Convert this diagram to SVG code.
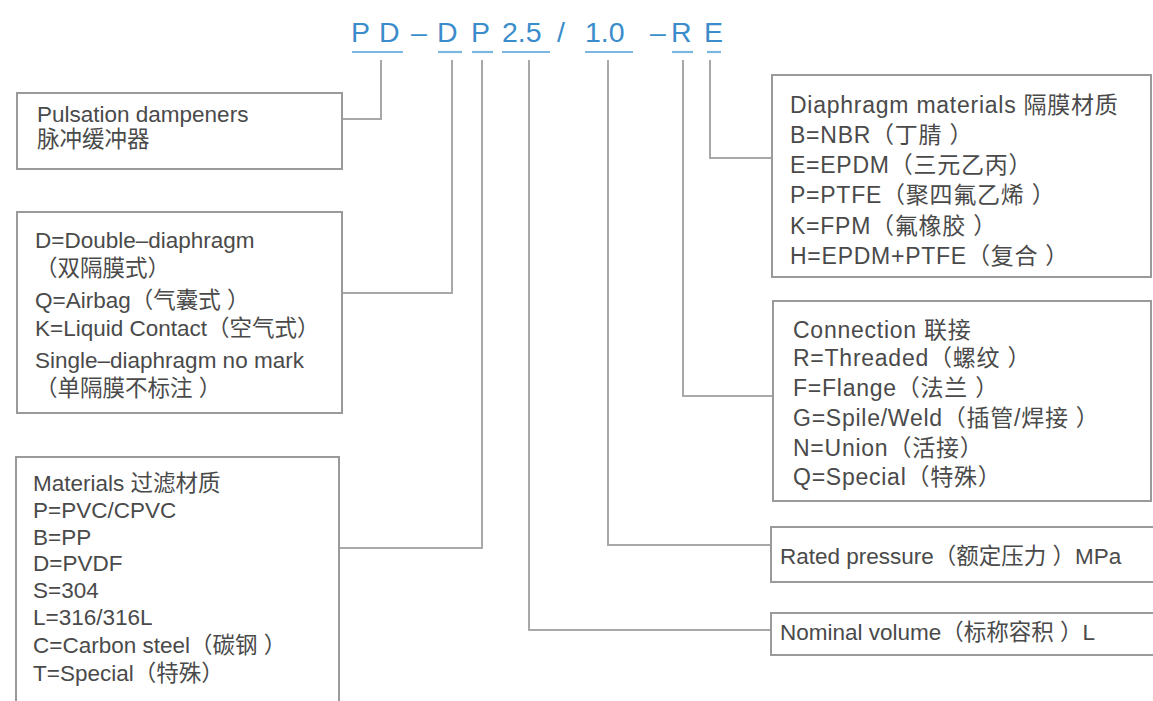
<svg xmlns="http://www.w3.org/2000/svg" width="1153" height="701" viewBox="0 0 1153 701">
<style>
.box{fill:#fff;stroke:#9a9a9a;stroke-width:2}
.con{fill:none;stroke:#a8a8a8;stroke-width:2}
.t{font-family:"Liberation Sans","Noto Sans CJK SC",sans-serif;fill:#4a4a4a}
.l{font-size:22.5px}
.r{font-size:23px;letter-spacing:0.75px}
.ttl{font-family:"Liberation Sans",Arial,sans-serif;font-size:28.5px;fill:#3a8ccb}
.ul{stroke:#7ab8e2;stroke-width:2.2}
</style>
<rect width="1153" height="701" fill="#fff"/>
<g id="title">
<text class="ttl" x="351" y="42">P</text>
<text class="ttl" x="379" y="42">D</text>
<text class="ttl" x="411" y="42">–</text>
<text class="ttl" x="437" y="42">D</text>
<text class="ttl" x="471" y="42">P</text>
<text class="ttl" x="502" y="42">2.5</text>
<text class="ttl" x="557" y="42">/</text>
<text class="ttl" x="585" y="42">1.0</text>
<text class="ttl" x="650" y="42">–</text>
<text class="ttl" x="671" y="42">R</text>
<text class="ttl" x="704" y="42">E</text>
<line class="ul" x1="352" y1="52" x2="403" y2="52"/>
<line class="ul" x1="438" y1="52" x2="462" y2="52"/>
<line class="ul" x1="472" y1="52" x2="493" y2="52"/>
<line class="ul" x1="502" y1="52" x2="550" y2="52"/>
<line class="ul" x1="585" y1="52" x2="633" y2="52"/>
<line class="ul" x1="672" y1="52" x2="693" y2="52"/>
<line class="ul" x1="707" y1="52" x2="721" y2="52"/>
</g>
<g id="connectors">
<path class="con" d="M381,60 V119 H342"/>
<path class="con" d="M452,60 V293 H342"/>
<path class="con" d="M482,60 V548 H339"/>
<path class="con" d="M529,60 V630 H771"/>
<path class="con" d="M608,60 V545 H771"/>
<path class="con" d="M683,60 V396 H773"/>
<path class="con" d="M710,60 V158 H772"/>
</g>
<g id="node-type">
<rect class="box" x="17" y="93" width="325" height="76"/>
<text class="t l" x="37" y="122">Pulsation dampeners</text>
<text class="t l" x="37" y="147">脉冲缓冲器</text>
</g>
<g id="node-structure">
<rect class="box" x="17" y="212" width="325" height="201"/>
<text class="t l" x="35" y="248">D=Double–diaphragm</text>
<text class="t l" x="35" y="276">（双隔膜式）</text>
<text class="t l" x="35" y="308">Q=Airbag（气囊式 ）</text>
<text class="t l" x="35" y="336">K=Liquid Contact（空气式）</text>
<text class="t l" x="35" y="368">Single–diaphragm no mark</text>
<text class="t l" x="35" y="396">（单隔膜不标注 ）</text>
</g>
<g id="node-materials">
<rect class="box" x="16" y="457" width="323" height="260"/>
<text class="t l" x="33" y="491">Materials 过滤材质</text>
<text class="t l" x="33" y="518">P=PVC/CPVC</text>
<text class="t l" x="33" y="545">B=PP</text>
<text class="t l" x="33" y="571">D=PVDF</text>
<text class="t l" x="33" y="598">S=304</text>
<text class="t l" x="33" y="625">L=316/316L</text>
<text class="t l" x="33" y="653">C=Carbon steel（碳钢 ）</text>
<text class="t l" x="33" y="681">T=Special（特殊）</text>
</g>
<g id="node-diaphragm">
<rect class="box" x="772" y="75" width="379" height="202"/>
<text class="t r" x="790" y="113">Diaphragm materials 隔膜材质</text>
<text class="t r" x="790" y="143">B=NBR（丁腈 ）</text>
<text class="t r" x="790" y="173">E=EPDM（三元乙丙）</text>
<text class="t r" x="790" y="203">P=PTFE（聚四氟乙烯 ）</text>
<text class="t r" x="790" y="234">K=FPM（氟橡胶 ）</text>
<text class="t r" x="790" y="264">H=EPDM+PTFE（复合 ）</text>
</g>
<g id="node-connection">
<rect class="box" x="773" y="301" width="378" height="200"/>
<text class="t r" x="793" y="338">Connection 联接</text>
<text class="t r" x="793" y="366">R=Threaded（螺纹 ）</text>
<text class="t r" x="793" y="396">F=Flange（法兰 ）</text>
<text class="t r" x="793" y="426">G=Spile/Weld（插管/焊接 ）</text>
<text class="t r" x="793" y="456">N=Union（活接）</text>
<text class="t r" x="793" y="485">Q=Special（特殊）</text>
</g>
<g id="node-pressure">
<rect class="box" x="771" y="527" width="400" height="55"/>
<text class="t l" x="780" y="564">Rated pressure（额定压力 ）MPa</text>
</g>
<g id="node-volume">
<rect class="box" x="771" y="613" width="400" height="42"/>
<text class="t l" x="780" y="640">Nominal volume（标称容积 ）L</text>
</g>
</svg>
